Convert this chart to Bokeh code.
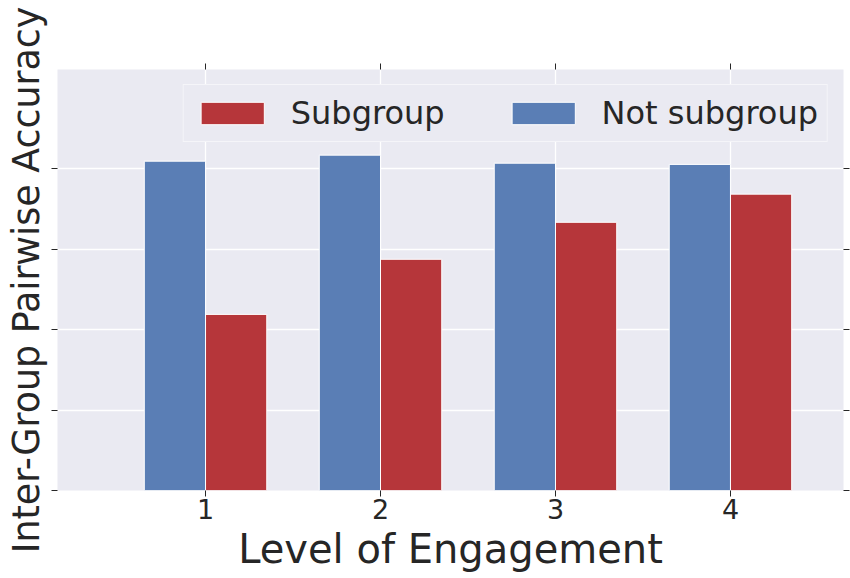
from bokeh.plotting import figure
from bokeh.models import FixedTicker, LinearAxis, Range1d
from bokeh.embed import file_html
from bokeh.resources import INLINE

# ---- data ----
levels = [1, 2, 3, 4]
tick_labels = ["1", "2", "3", "4"]
subgroup = [0.438, 0.575, 0.667, 0.737]
not_subgroup = [0.819, 0.834, 0.814, 0.811]
y_ticks = [0.0, 0.2, 0.4, 0.6, 0.8]

BAR_W = 0.35
BLUE = "#5A7EB5"
RED = "#B6363A"
BG = "#EAEAF2"
TXT = "#262626"
FONT = "DejaVu Sans"

p = figure(width=850, height=578, output_backend="svg", toolbar_location=None,
           x_range=Range1d(0.154, 4.646), y_range=Range1d(0, 1.047),
           min_border_left=57, min_border_right=7, min_border_top=69,
           min_border_bottom=88)
p.background_fill_color = BG
p.border_fill_color = "white"
p.outline_line_color = None

x_blue = [x - BAR_W / 2 for x in levels]
x_red = [x + BAR_W / 2 for x in levels]

r_red = p.vbar(x=x_red, top=subgroup, width=BAR_W, bottom=0,
               fill_color=RED, line_color="white", line_width=1,
               legend_label="Subgroup")
r_blue = p.vbar(x=x_blue, top=not_subgroup, width=BAR_W, bottom=0,
                fill_color=BLUE, line_color="white", line_width=1,
                legend_label="Not subgroup")

# grids
for g in (p.xgrid, p.ygrid):
    g.grid_line_color = "white"
    g.grid_line_width = 1.3
p.xgrid.ticker = FixedTicker(ticks=levels)
p.ygrid.ticker = FixedTicker(ticks=y_ticks)

def style_axis(ax, ticks, labels=None):
    ax.ticker = FixedTicker(ticks=ticks)
    ax.axis_line_color = None
    ax.major_tick_line_color = TXT
    ax.major_tick_line_width = 1
    ax.major_tick_out = 6
    ax.major_tick_in = 0
    ax.minor_tick_line_color = None
    ax.major_label_text_color = TXT
    ax.major_label_text_font = FONT
    if labels is None:
        ax.major_label_overrides = {t: "" for t in ticks}
        ax.major_label_text_font_size = "1px"
        ax.major_label_standoff = 0
    else:
        ax.major_label_overrides = {t: lab for t, lab in zip(ticks, labels)}

# bottom axis
xa = p.xaxis[0]
style_axis(xa, levels, tick_labels)
xa.major_label_text_font_size = "27px"
xa.major_label_standoff = 2
xa.axis_label = "Level of Engagement"
xa.axis_label_text_font = FONT
xa.axis_label_text_font_size = "40px"
xa.axis_label_text_font_style = "normal"
xa.axis_label_text_color = TXT
xa.axis_label_standoff = 4

# left axis
ya = p.yaxis[0]
style_axis(ya, y_ticks)
ya.axis_label = "Inter-Group Pairwise Accuracy"
ya.axis_label_text_font = FONT
ya.axis_label_text_font_size = "36.4px"
ya.axis_label_text_font_style = "normal"
ya.axis_label_text_color = TXT
ya.axis_label_standoff = 4

# top and right tick-only axes
top_ax = LinearAxis()
style_axis(top_ax, levels)
p.add_layout(top_ax, "above")
right_ax = LinearAxis()
style_axis(right_ax, y_ticks)
p.add_layout(right_ax, "right")

# legend
lg = p.legend[0]
lg.orientation = "horizontal"
lg.location = "top_right"
lg.margin = 15
lg.padding = 9
lg.spacing = 59
lg.label_standoff = 19
lg.glyph_width = 79
lg.glyph_height = 28
lg.label_text_font = FONT
lg.label_text_font_size = "32px"
lg.label_text_color = TXT
lg.background_fill_color = BG
lg.background_fill_alpha = 1.0
lg.border_line_color = "white"
lg.border_line_width = 1.3

open("out.html", "w").write(file_html(p, INLINE))
